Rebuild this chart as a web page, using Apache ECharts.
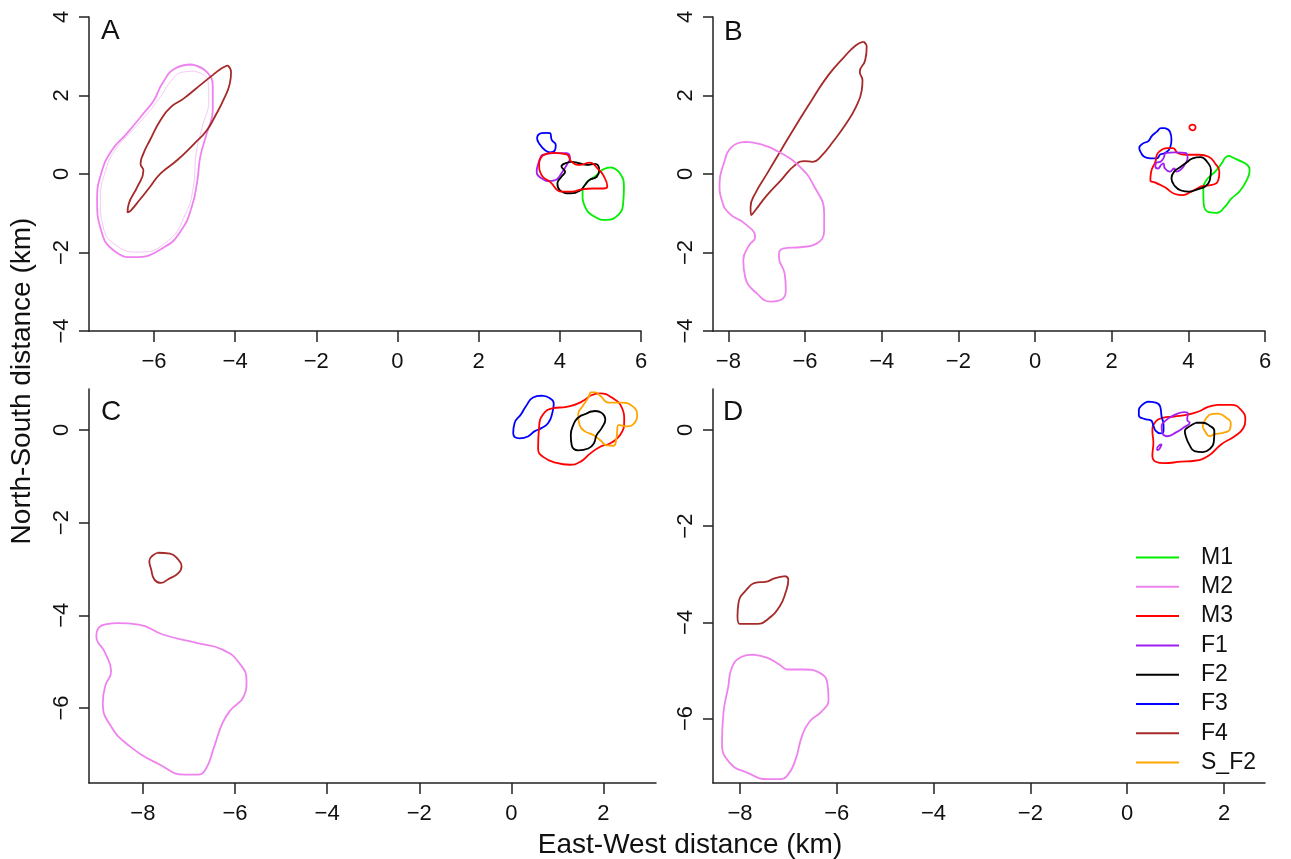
<!DOCTYPE html>
<html>
<head>
<meta charset="utf-8">
<script src="https://cdn.jsdelivr.net/npm/echarts@6/dist/echarts.min.js"></script>
<style>
  html, body { margin: 0; padding: 0; background: #fff; }
  #chart { width: 1291px; height: 859px; }
</style>
</head>
<body>
<div id="chart"></div>
<script>
// groups shown in the legend, in order
const groups = ['M1', 'M2', 'M3', 'F1', 'F2', 'F3', 'F4', 'S_F2'];

// tick labels per panel
const xTicksA = [-6, -4, -2, 0, 2, 4, 6];
const xTicksB = [-8, -6, -4, -2, 0, 2, 4, 6];
const xTicksC = [-8, -6, -4, -2, 0, 2];
const xTicksD = [-8, -6, -4, -2, 0, 2];
const yTicksAB = [-4, -2, 0, 2, 4];
const yTicksCD = [-6, -4, -2, 0];

// ---- panel A contours (km) ----
const aM2 = [[-5.07,2.79],[-4.70,2.60],[-4.55,2.22],[-4.55,1.63],[-4.70,1.03],[-4.86,0.43],[-4.93,-0.16],[-5.07,-0.84],[-5.33,-1.44],[-5.74,-1.86],[-6.47,-2.12],[-6.99,-1.95],[-7.30,-1.44],[-7.40,-0.67],[-7.30,0.01],[-7.04,0.60],[-6.67,1.03],[-6.26,1.54],[-6.00,1.88],[-5.79,2.31],[-5.48,2.69]];
const aM2inner = [[-5.01,2.62],[-4.67,2.39],[-4.65,1.88],[-4.81,1.20],[-4.96,0.52],[-5.03,-0.33],[-5.22,-1.01],[-5.64,-1.69],[-6.36,-1.99],[-6.93,-1.82],[-7.25,-1.35],[-7.32,-0.67],[-7.19,0.09],[-6.93,0.65],[-6.57,1.07],[-6.16,1.54],[-5.84,1.97],[-5.53,2.43],[-5.27,2.60]];
const aF4 = [[-4.18,2.77],[-4.10,2.60],[-4.13,2.31],[-4.29,1.88],[-4.50,1.46],[-4.70,1.11],[-5.01,0.77],[-5.43,0.35],[-5.84,0.01],[-6.10,-0.33],[-6.36,-0.67],[-6.57,-0.93],[-6.65,-0.98],[-6.62,-0.76],[-6.41,-0.33],[-6.26,0.09],[-6.33,0.26],[-6.26,0.52],[-6.10,0.86],[-5.84,1.37],[-5.58,1.71],[-5.27,1.92],[-4.96,2.18],[-4.60,2.48],[-4.34,2.69]];
const aM1 = [[5.275,0.17],[5.48,0.02],[5.58,-0.32],[5.56,-0.75],[5.44,-1.04],[5.15,-1.17],[4.86,-1.09],[4.62,-0.83],[4.56,-0.49],[4.64,-0.24],[4.86,-0.07],[5.07,0.12]];
const aF3 = [[3.67,1.05],[3.76,1.04],[3.80,0.87],[3.90,0.74],[3.88,0.61],[3.76,0.55],[3.63,0.61],[3.49,0.78],[3.44,0.91],[3.55,1.04]];
const aF1 = [[3.55,0.48],[3.84,0.53],[4.17,0.53],[4.25,0.40],[4.17,0.23],[4.04,0.02],[3.92,-0.14],[3.76,-0.18],[3.55,-0.11],[3.43,0.06],[3.47,0.27]];
const aF2 = [[4.13,0.27],[4.29,0.31],[4.50,0.27],[4.66,0.23],[4.86,0.26],[4.97,0.10],[4.91,-0.07],[4.73,-0.15],[4.62,-0.28],[4.50,-0.42],[4.25,-0.49],[4.00,-0.41],[3.94,-0.24],[4.04,-0.07],[4.13,0.06],[4.04,0.19]];
const aM3 = [[3.59,0.48],[3.84,0.54],[4.17,0.50],[4.29,0.31],[4.50,0.23],[4.74,0.29],[4.95,0.12],[5.07,-0.03],[5.17,-0.32],[5.07,-0.37],[4.82,-0.37],[4.54,-0.39],[4.29,-0.45],[4.04,-0.45],[3.76,-0.20],[3.55,-0.03],[3.49,0.27]];

// ---- panel B contours ----
const bF4 = [[-4.47,3.37],[-4.39,3.24],[-4.43,2.90],[-4.57,2.60],[-4.50,2.39],[-4.52,2.13],[-4.67,1.71],[-4.93,1.28],[-5.24,0.86],[-5.60,0.43],[-5.80,0.31],[-6.01,0.33],[-6.27,0.22],[-6.63,-0.16],[-6.99,-0.54],[-7.30,-0.93],[-7.40,-1.05],[-7.42,-0.84],[-7.30,-0.50],[-6.99,0.01],[-6.63,0.60],[-6.21,1.28],[-5.80,1.92],[-5.39,2.52],[-4.98,2.98],[-4.67,3.28]];
const bM2 = [[-7.56,0.82],[-7.20,0.77],[-6.68,0.56],[-6.17,0.22],[-5.75,-0.33],[-5.50,-1.01],[-5.50,-1.44],[-5.71,-1.78],[-6.07,-1.86],[-6.58,-1.90],[-6.68,-2.12],[-6.53,-2.54],[-6.50,-2.97],[-6.63,-3.21],[-6.89,-3.25],[-7.25,-3.05],[-7.56,-2.63],[-7.61,-2.20],[-7.46,-1.82],[-7.30,-1.61],[-7.56,-1.27],[-7.97,-1.01],[-8.17,-0.67],[-8.23,-0.25],[-8.12,0.26],[-7.91,0.69]];
const bM1 = [[5.08,0.46],[5.29,0.36],[5.54,0.23],[5.60,0.10],[5.50,-0.20],[5.33,-0.45],[5.12,-0.63],[4.95,-0.84],[4.74,-0.99],[4.53,-0.97],[4.40,-0.75],[4.39,-0.41],[4.47,-0.16],[4.70,0.06],[4.87,0.27],[4.98,0.43]];
const bM3dot = [[4.025,1.19],[4.05,1.24],[4.11,1.26],[4.17,1.24],[4.19,1.19],[4.17,1.14],[4.11,1.11],[4.05,1.14]];
const bF3 = [[3.39,1.17],[3.52,1.08],[3.56,0.87],[3.52,0.66],[3.38,0.53],[3.27,0.50],[3.18,0.40],[3.01,0.40],[2.85,0.44],[2.76,0.55],[2.72,0.66],[2.82,0.78],[2.95,0.83],[3.05,0.97],[3.18,1.08],[3.29,1.17]];
const bM3 = [[3.24,0.57],[3.44,0.66],[3.60,0.66],[3.73,0.53],[3.94,0.49],[4.28,0.49],[4.53,0.44],[4.70,0.27],[4.81,0.06],[4.78,-0.16],[4.61,-0.28],[4.36,-0.31],[4.23,-0.37],[4.07,-0.45],[3.86,-0.54],[3.65,-0.51],[3.39,-0.34],[3.14,-0.22],[3.01,-0.16],[3.03,0.06],[3.14,0.31],[3.18,0.49]];
const bF1 = [[3.39,0.53],[3.65,0.55],[3.94,0.53],[3.98,0.40],[3.90,0.23],[3.81,0.12],[3.69,0.06],[3.63,0.14],[3.52,0.06],[3.39,0.14],[3.35,0.27],[3.29,0.23],[3.21,0.14],[3.14,0.20],[3.17,0.29],[3.27,0.31],[3.35,0.40]];
const bF2 = [[3.98,0.31],[4.11,0.40],[4.32,0.43],[4.49,0.31],[4.59,0.10],[4.56,-0.16],[4.45,-0.31],[4.24,-0.39],[4.02,-0.45],[3.81,-0.42],[3.65,-0.31],[3.56,-0.11],[3.63,0.06],[3.81,0.19]];

// ---- panel C contours ----
const cM2 = [[-8.55,-4.17],[-8.09,-4.20],[-7.55,-4.42],[-6.82,-4.60],[-6.27,-4.74],[-5.90,-5.04],[-5.75,-5.42],[-5.81,-5.75],[-6.09,-6.04],[-6.27,-6.32],[-6.45,-6.83],[-6.64,-7.33],[-6.82,-7.44],[-7.09,-7.44],[-7.64,-7.22],[-8.28,-6.83],[-8.69,-6.40],[-8.87,-5.89],[-8.82,-5.53],[-8.69,-5.21],[-8.82,-4.81],[-9.01,-4.45],[-8.96,-4.27],[-8.78,-4.19]];
const cF4 = [[-7.68,-2.65],[-7.41,-2.67],[-7.23,-2.80],[-7.16,-2.94],[-7.23,-3.09],[-7.45,-3.22],[-7.61,-3.30],[-7.75,-3.23],[-7.82,-3.01],[-7.86,-2.83],[-7.80,-2.72]];
const cF3 = [[0.65,0.74],[0.83,0.69],[0.92,0.56],[0.89,0.37],[0.80,0.15],[0.65,0.04],[0.50,-0.03],[0.36,-0.14],[0.18,-0.18],[0.04,-0.07],[0.07,0.15],[0.21,0.34],[0.32,0.52],[0.47,0.70]];
const cM3 = [[1.71,0.74],[1.93,0.79],[2.18,0.70],[2.40,0.48],[2.45,0.19],[2.36,-0.11],[2.14,-0.29],[1.93,-0.36],[1.71,-0.51],[1.49,-0.69],[1.27,-0.75],[0.98,-0.71],[0.69,-0.58],[0.58,-0.40],[0.60,0.04],[0.69,0.34],[0.91,0.47],[1.20,0.50],[1.49,0.59]];
const cSF2 = [[1.71,0.81],[1.82,0.81],[1.93,0.74],[2.11,0.59],[2.40,0.59],[2.62,0.52],[2.73,0.34],[2.67,0.15],[2.51,0.08],[2.33,0.11],[2.28,-0.18],[2.22,-0.34],[2.07,-0.33],[1.93,-0.22],[1.78,-0.11],[1.60,-0.03],[1.48,0.11],[1.45,0.34],[1.55,0.52],[1.67,0.70]];
const cF2 = [[1.60,0.34],[1.82,0.41],[1.96,0.37],[2.04,0.23],[1.96,0.04],[1.85,-0.11],[1.79,-0.29],[1.67,-0.40],[1.45,-0.44],[1.31,-0.33],[1.29,-0.11],[1.35,0.12],[1.44,0.26]];

// ---- panel D contours ----
const dM2 = [[-7.72,-4.67],[-7.43,-4.74],[-7.18,-4.88],[-7.01,-4.98],[-6.68,-4.98],[-6.35,-5.05],[-6.19,-5.29],[-6.17,-5.61],[-6.31,-5.85],[-6.56,-6.06],[-6.72,-6.37],[-6.85,-6.85],[-7.01,-7.17],[-7.18,-7.26],[-7.43,-7.26],[-7.84,-7.13],[-8.21,-6.92],[-8.37,-6.51],[-8.34,-5.88],[-8.24,-5.33],[-8.18,-4.98],[-8.01,-4.74]];
const dF4 = [[-7.06,-3.04],[-7.00,-3.11],[-7.06,-3.39],[-7.18,-3.67],[-7.43,-3.94],[-7.64,-4.03],[-8.01,-4.03],[-8.05,-3.87],[-8.03,-3.60],[-7.89,-3.35],[-7.64,-3.17],[-7.48,-3.16],[-7.27,-3.08]];
const dM3 = [[1.87,0.52],[2.15,0.52],[2.36,0.41],[2.44,0.21],[2.40,0.04],[2.22,-0.13],[1.94,-0.30],[1.67,-0.54],[1.39,-0.64],[1.11,-0.66],[0.76,-0.69],[0.59,-0.66],[0.52,-0.54],[0.54,-0.26],[0.52,-0.02],[0.57,0.15],[0.73,0.25],[0.97,0.28],[1.25,0.32],[1.49,0.39],[1.67,0.48]];
const dF3 = [[0.42,0.59],[0.59,0.57],[0.68,0.49],[0.71,0.28],[0.75,0.11],[0.75,-0.02],[0.68,-0.07],[0.59,-0.02],[0.54,0.09],[0.49,0.20],[0.35,0.23],[0.24,0.30],[0.24,0.41],[0.31,0.52]];
const dF1 = [[1.04,0.34],[1.18,0.37],[1.25,0.35],[1.24,0.21],[1.29,0.15],[1.18,0.06],[1.01,-0.05],[0.83,-0.13],[0.73,-0.07],[0.71,0.08],[0.80,0.20],[0.90,0.27]];
const dF1b = [[0.61,-0.39],[0.66,-0.32],[0.71,-0.30],[0.68,-0.37],[0.63,-0.42]];
const dSF2 = [[1.70,0.32],[1.87,0.34],[2.05,0.25],[2.14,0.15],[2.12,0.01],[1.98,-0.06],[1.79,-0.09],[1.70,-0.13],[1.61,-0.03],[1.56,0.09],[1.61,0.21]];
const dF2 = [[1.42,0.15],[1.56,0.15],[1.70,0.09],[1.80,-0.02],[1.79,-0.23],[1.70,-0.40],[1.56,-0.46],[1.39,-0.44],[1.28,-0.30],[1.21,-0.13],[1.19,-0.02],[1.28,0.07]];

const colors = {
  M1: '#00ee00', M2: '#ee82ee', M3: '#ff0000', F1: '#a020f0',
  F2: '#000000', F3: '#0000ff', F4: '#a52a2a', S_F2: '#ffa500'
};

// which contour goes in which panel
const panelContours = [
  [['M2', aM2], ['F4', aF4], ['M1', aM1], ['F3', aF3], ['F1', aF1], ['F2', aF2], ['M3', aM3]],
  [['F4', bF4], ['M2', bM2], ['M1', bM1], ['M3', bM3dot], ['F3', bF3], ['M3', bM3], ['F1', bF1], ['F2', bF2]],
  [['M2', cM2], ['F4', cF4], ['F3', cF3], ['M3', cM3], ['S_F2', cSF2], ['F2', cF2]],
  [['M2', dM2], ['F4', dF4], ['M3', dM3], ['F3', dF3], ['F1', dF1], ['F1', dF1b], ['S_F2', dSF2], ['F2', dF2]]
];

const FONT = 'Liberation Sans, Arial, sans-serif';
const minus = v => String(v).replace('-', '\u2212');

const grids = [
  { left: 89, top: 17, width: 552, height: 314 },
  { left: 713, top: 17, width: 552, height: 314 },
  { left: 89, top: 389, width: 567, height: 394 },
  { left: 713, top: 389, width: 552, height: 394 }
];
const xRanges = [[-7.6, 6], [-8.4, 6], [-9.17, 3.14], [-8.556, 2.846]];
const yRanges = [[-4, 4], [-4, 4], [-7.62, 0.885], [-7.34, 0.852]];
const xTicks = [xTicksA, xTicksB, xTicksC, xTicksD];
const yTicks = [yTicksAB, yTicksAB, yTicksCD, yTicksCD];

const axisLine = { show: true, onZero: false, lineStyle: { color: '#222', width: 1.5 } };

const xAxis = grids.map((g, i) => ({
  type: 'value', gridIndex: i, min: xRanges[i][0], max: xRanges[i][1],
  axisLine: axisLine,
  axisTick: { show: true, length: 11, customValues: xTicks[i], lineStyle: { color: '#222', width: 1.5 } },
  axisLabel: { customValues: xTicks[i], formatter: minus, fontSize: 22, color: '#111', fontFamily: FONT, margin: 20 },
  splitLine: { show: false }
}));
const yAxis = grids.map((g, i) => ({
  type: 'value', gridIndex: i, min: yRanges[i][0], max: yRanges[i][1],
  axisLine: axisLine,
  axisTick: { show: true, length: 10, customValues: yTicks[i], lineStyle: { color: '#222', width: 1.5 } },
  axisLabel: { customValues: yTicks[i], formatter: minus, rotate: 90, fontSize: 22, color: '#111', fontFamily: FONT, margin: 16 },
  splitLine: { show: false }
}));

const closeRing = pts => pts.concat([pts[0]]);

const series = [];
// faint inner M2 ring in panel A
series.push({
  type: 'line', name: 'M2-inner', xAxisIndex: 0, yAxisIndex: 0,
  data: closeRing(aM2inner), smooth: 0.5, symbol: 'none', silent: true,
  lineStyle: { color: '#f5c9f5', width: 1 }
});
panelContours.forEach((list, i) => {
  list.forEach(([name, pts]) => {
    series.push({
      type: 'line', name: name, xAxisIndex: i, yAxisIndex: i,
      data: closeRing(pts), smooth: 0.5, symbol: 'none',
      color: colors[name],
      lineStyle: { color: colors[name], width: 1.8 }
    });
  });
});

const letters = ['A', 'B', 'C', 'D'];
const letterPos = [[101, 17], [724, 18], [101, 398], [723, 398]];

const chart = echarts.init(document.getElementById('chart'));
chart.setOption({
  animation: false,
  backgroundColor: '#fff',
  grid: grids,
  xAxis: xAxis,
  yAxis: yAxis,
  legend: {
    data: groups, orient: 'vertical', left: 1131, top: 541,
    icon: 'rect', itemWidth: 43, itemHeight: 2, itemGap: 6.3,
    textStyle: { fontSize: 23, lineHeight: 22, fontFamily: FONT, color: '#111', padding: [0, 0, 0, 17] }
  },
  graphic: letters.map((t, i) => ({
    type: 'text', left: letterPos[i][0], top: letterPos[i][1],
    style: { text: t, fontSize: 28, fontFamily: FONT, fill: '#111' }
  })).concat([
    {
      type: 'text', x: 690, y: 845,
      style: { text: 'East-West distance (km)', fontSize: 28, fontFamily: FONT, fill: '#111', align: 'center', verticalAlign: 'middle' }
    },
    {
      type: 'text', x: 8, y: 381, rotation: Math.PI / 2,
      style: { text: 'North-South distance (km)', fontSize: 28, fontFamily: FONT, fill: '#111', align: 'center', verticalAlign: 'top' }
    }
  ]),
  series: series
});
</script>
</body>
</html>
